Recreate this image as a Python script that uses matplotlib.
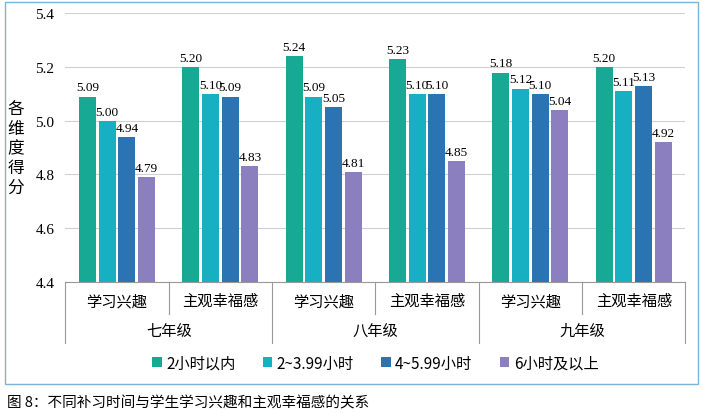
import matplotlib.pyplot as plt
import numpy as np

plt.rcParams["font.family"] = ["Noto Sans CJK SC", "DejaVu Sans"]

grades = ["七年级", "八年级", "九年级"]
dims = ["学习兴趣", "主观幸福感"]
series = ["2小时以内", "2~3.99小时", "4~5.99小时", "6小时及以上"]
colors = ["#18A994", "#17AFC2", "#2A74B3", "#8C7FC0"]
# rows: category (grade x dim), cols: series
values = [
    [5.09, 5.00, 4.94, 4.79],
    [5.20, 5.10, 5.09, 4.83],
    [5.24, 5.09, 5.05, 4.81],
    [5.23, 5.10, 5.10, 4.85],
    [5.18, 5.12, 5.10, 5.04],
    [5.20, 5.11, 5.13, 4.92],
]
vals = np.array(values)

fig = plt.figure(figsize=(7.03, 4.14), dpi=100)
ax = fig.add_axes([0.093, 0.317, 0.882, 0.648])
n = len(values)
x = np.arange(n)
step, w = 0.19, 0.165
for j, s in enumerate(series):
    xs = x + (j - 1.5) * step
    ax.bar(xs, vals[:, j], w, color=colors[j], label=s, zorder=3)
    for xi, v in zip(xs, vals[:, j]):
        ax.text(xi, v + 0.012, f"{v:.2f}", ha="center", va="bottom", fontsize=9.5,
                family="Liberation Serif")

ax.set_ylim(4.4, 5.4)
ax.set_xlim(-0.5, n - 0.5)
ax.set_yticks(np.arange(4.4, 5.41, 0.2))
ax.set_yticklabels([f"{t:.1f}" for t in np.arange(4.4, 5.41, 0.2)], family="Liberation Serif", fontsize=11)
ax.grid(axis="y", color="#d0d0d0", lw=0.8, zorder=0)
for sp in ["top", "right", "left"]:
    ax.spines[sp].set_visible(False)
ax.spines["bottom"].set_color("#999999")
ax.tick_params(axis="y", length=0, pad=8)
ax.set_xticks([])
ax.set_ylabel("各\n维\n度\n得\n分", rotation=0, fontsize=12, labelpad=14, va="center")

# two-level category axis
tr = ax.get_xaxis_transform()
for i in range(n):
    ax.text(i, -0.07, dims[i % 2], transform=tr, ha="center", va="center", fontsize=11)
for b in np.arange(-0.5, n, 1.0):
    long = (round(b + 0.5) % 2 == 0)
    ax.plot([b, b], [0, -0.23 if long else -0.12], transform=tr, color="#999999",
            lw=0.8, clip_on=False)
for g, name in enumerate(grades):
    ax.text(2 * g + 0.5, -0.18, name, transform=tr, ha="center", va="center", fontsize=11)

ax.legend(loc="upper center", bbox_to_anchor=(0.5, -0.22), ncol=4, frameon=False,
          fontsize=11, handlelength=0.6, handleheight=0.6, columnspacing=1.8, handletextpad=0.3)

fig.patches.append(plt.Rectangle((0.007, 0.07), 0.986, 0.922, transform=fig.transFigure,
                                 fill=False, ec="#7fb3d5", lw=1))
fig.text(0.01, 0.025, "图 8：不同补习时间与学生学习兴趣和主观幸福感的关系", fontsize=10.5,
         ha="left", va="center")
fig.savefig("out.png", dpi=100)
